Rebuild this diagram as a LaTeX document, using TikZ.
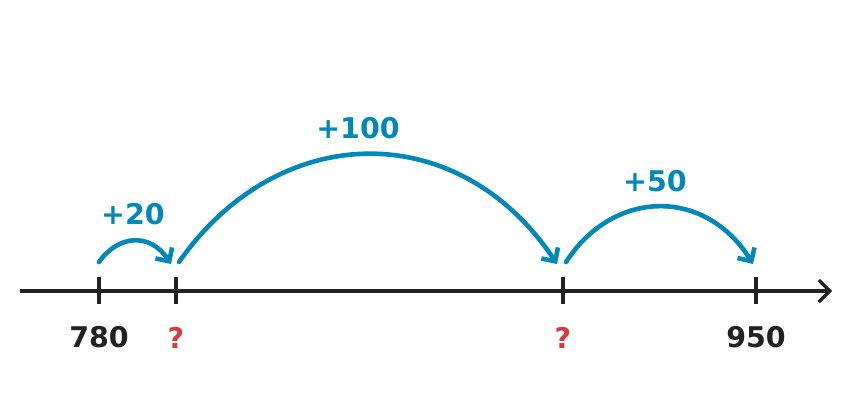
\documentclass[tikz,border=0pt]{standalone}
\usepackage{fontspec}
\setmainfont{DejaVu Sans}
\usetikzlibrary{arrows.meta}
\definecolor{jump}{HTML}{0088BB}
\definecolor{ink}{HTML}{222222}
\definecolor{unk}{HTML}{D63B3B}
\tikzset{
  axisline/.style={ink, line width=3.2pt, -{Straight Barb[length=11pt,width=22pt,line width=3.2pt]}},
  tickmark/.style={ink, line width=3.2pt},
  arc/.style={jump, line width=4.6pt, line cap=round, -{Straight Barb[length=10pt,width=20pt,line width=4.6pt]}},
  numlab/.style={font=\fontsize{28.5}{30}\selectfont\bfseries, text=ink, inner sep=0pt},
  unklab/.style={font=\fontsize{28.5}{30}\selectfont\bfseries, text=unk, inner sep=0pt},
  jumplab/.style={font=\fontsize{28.5}{30}\selectfont\bfseries, text=jump, inner sep=0pt},
}
\begin{document}
\begin{tikzpicture}[x=1pt,y=-1pt]
\useasboundingbox (0,0) rectangle (864,416);
\coordinate (L) at (20,291);
\coordinate (R) at (832,291);
\draw[axisline] (L) -- (R);
\foreach \n/\x in {a/99,b/176,c/563,d/756}{
  \coordinate (t\n) at (\x,291);
  \draw[tickmark] (\x,277) -- (\x,304);
}
\node[numlab] (l780) at (99,337.5) {780};
\node[unklab] (q1) at (176,337.5) {?};
\node[unklab] (q2) at (563,337.5) {?};
\node[numlab] (l950) at (756,337.5) {950};
\coordinate (s1) at (99,262);
\coordinate (e1) at (171,264);
\coordinate (s2) at (179,262);
\coordinate (e2) at (557,264);
\coordinate (s3) at (566,262);
\coordinate (e3) at (753,264);
\draw[arc] (s1) .. controls (118,235) and (150,232) .. (e1);
\draw[arc] (s2) .. controls (280,118) and (460,118) .. (e2);
\draw[arc] (s3) .. controls (614,188) and (706,188) .. (e3);
\node[jumplab] (j1) at (133,214.5) {+20};
\node[jumplab] (j2) at (358,128.5) {+100};
\node[jumplab] (j3) at (655,181.5) {+50};
\end{tikzpicture}
\end{document}
